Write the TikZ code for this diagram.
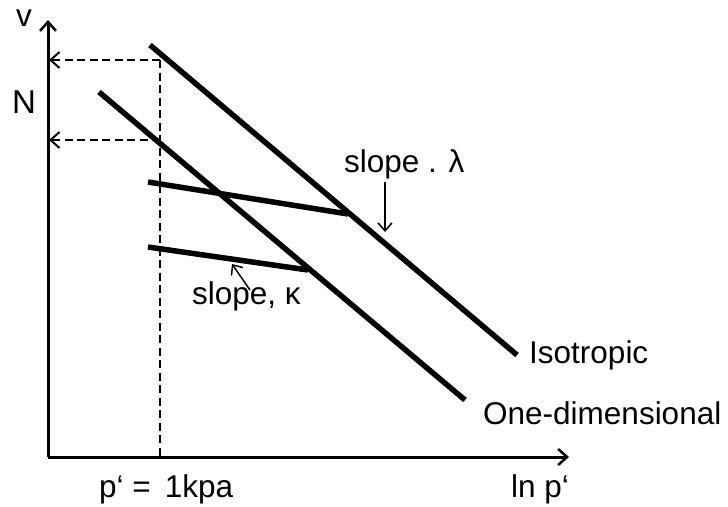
\documentclass[tikz,border=0pt]{standalone}
\usepackage{fontspec}
\setmainfont{Liberation Sans}[Ligatures=ResetAll]
\usetikzlibrary{arrows.meta}
\begin{document}
\begin{tikzpicture}[x=1pt,y=-1pt,
  lbl/.style={inner sep=0pt,font=\fontsize{31.5}{34}\selectfont},
  thickline/.style={line width=5.5pt},
  axisline/.style={line width=3pt,-{Straight Barb[length=9pt,width=16pt,line width=2.5pt]}},
  dashline/.style={line width=2.5pt,dash pattern=on 8pt off 4.5pt},
  dasharrow/.style={dashline,-{Straight Barb[length=9pt,width=16pt,line width=2pt]}},
  thinarrow/.style={line width=1.5pt,-{Straight Barb[length=8pt,width=14pt,line width=1.5pt]}}]
\useasboundingbox (0,0) rectangle (728,506);
% axes
\coordinate (O) at (48,457);
\coordinate (ytop) at (48,20);
\coordinate (xend) at (569,457);
\draw[axisline] (O) -- (ytop);
\draw[axisline] (O) -- (xend);
% dashed
\coordinate (dtop) at (160,60);
\coordinate (dbot) at (160,457);
\coordinate (dmid) at (160,140);
\coordinate (ya) at (49,60);
\coordinate (yb) at (49,140);
\draw[dashline] (dtop) -- (dbot);
\draw[dasharrow] (dtop) -- (ya);
\draw[dasharrow] (dmid) -- (yb);
% compression lines
\coordinate (iso1) at (150,45);
\coordinate (iso2) at (517,355);
\coordinate (one1) at (99,92);
\coordinate (one2) at (465,400);
\draw[thickline] (iso1) -- (iso2);
\draw[thickline] (one1) -- (one2);
% unloading lines
\coordinate (u1) at (148,182);
\coordinate (u2) at (348,214);
\coordinate (w1) at (148,247);
\coordinate (w2) at (308,270);
\draw[thickline] (u1) -- (u2);
\draw[thickline] (w1) -- (w2);
% labels
\node[lbl] (v) at (24,18) {v};
\node[lbl,font=\fontsize{33}{36}\selectfont] (N) at (24,102) {N};
\node[lbl,anchor=west] (sl) at (344,164) {slope . λ};
\node[lbl,anchor=west] (sk) at (192,296) {slope, κ};
\node[lbl,anchor=west] (iso) at (529,355) {Isotropic};
\node[lbl,anchor=west] (one) at (483,413) {One-dimensional};
\node[lbl,anchor=west] (p) at (99,489) {p\symbol{96} =\, 1kpa};
\node[lbl,anchor=west] (lnp) at (511,489) {ln p\symbol{96}};
% slope arrows
\coordinate (la1) at (385,182);
\coordinate (la2) at (385,232);
\draw[thinarrow] (la1) -- (la2);
\coordinate (ka1) at (250,290);
\coordinate (ka2) at (232,264);
\draw[thinarrow] (ka1) -- (ka2);
\end{tikzpicture}
\end{document}
